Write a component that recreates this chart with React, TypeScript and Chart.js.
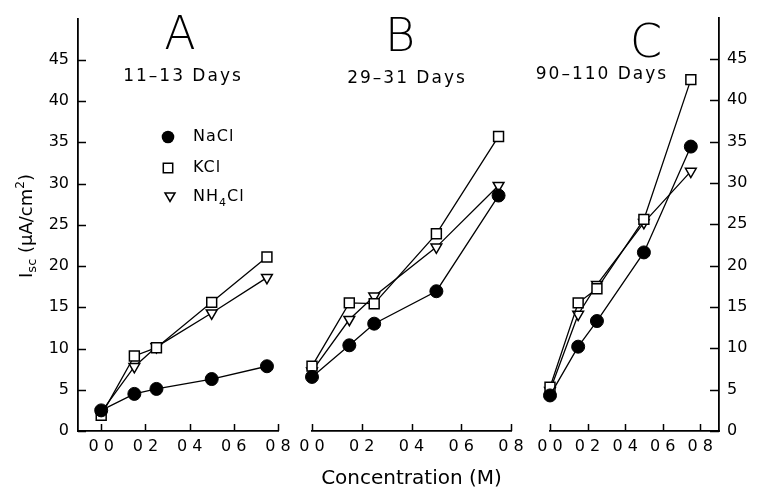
import React, { useEffect, useRef } from 'react';
import { Chart, registerables } from 'chart.js';

Chart.register(...registerables);

// ---------- data ----------
const concentrations = [0, 0.15, 0.25, 0.5, 0.75];
const xTickValues = [0, 0.2, 0.4, 0.6, 0.8];
const xTickLabels = ['0 0', '0 2', '0 4', '0 6', '0 8'];
const yTickValues = [0, 5, 10, 15, 20, 25, 30, 35, 40, 45];

const panelLetters = ['A', 'B', 'C'];
const panelAges = ['11–13 Days', '29–31 Days', '90–110 Days'];
const seriesNames = ['NaCl', 'KCl', 'NH4Cl'];
const xAxisTitle = 'Concentration (M)';

const naclA = [2.5, 4.5, 5.1, 6.3, 7.85];
const kclA = [1.9, 9.1, 10.1, 15.6, 21.1];
const nh4clA = [2.3, 7.8, 10.2, 14.3, 18.6];

const naclB = [6.5, 10.3, 12.9, 16.8, 28.3];
const kclB = [7.8, 15.4, 15.3, 23.7, 35.4];
const nh4clB = [7.2, 13.4, 16.2, 22.1, 29.5];

const naclC = [4.3, 10.2, 13.3, 21.6, 34.4];
const kclC = [5.3, 15.5, 17.2, 25.6, 42.5];
const nh4clC = [4.9, 14.1, 17.7, 25.2, 31.4];

// ---------- layout / styles ----------
const W = 777;
const H = 491;
const FONT = "'DejaVu Sans', 'Liberation Sans', sans-serif";

const seriesStyles = [
  { pointStyle: 'circle', pointRadius: 6.5, pointBackgroundColor: '#000', pointBorderColor: '#000', pointBorderWidth: 1, pointRotation: 0 },
  { pointStyle: 'rect', pointRadius: 7, pointBackgroundColor: '#fff', pointBorderColor: '#000', pointBorderWidth: 1.5, pointRotation: 0 },
  { pointStyle: 'triangle', pointRadius: 6.2, pointBackgroundColor: '#fff', pointBorderColor: '#000', pointBorderWidth: 1.5, pointRotation: 180 },
];

type Panel = {
  series: number[][];
  xMin: number;
  xMax: number;
  padding: { left: number; right: number; top: number; bottom: number };
  ySide: 'left' | 'right' | 'none';
  letterPos: [number, number];
  agePos: [number, number];
  idx: number;
};

const panels: Panel[] = [
  { idx: 0, series: [naclA, kclA, nh4clA], xMin: -0.105, xMax: 0.8, padding: { left: 0, right: W - 278, top: 15, bottom: 0 }, ySide: 'left', letterPos: [180, 37], agePos: [182, 77] },
  { idx: 1, series: [naclB, kclB, nh4clB], xMin: 0, xMax: 0.8, padding: { left: 312, right: W - 511, top: 15, bottom: 0 }, ySide: 'none', letterPos: [400, 39], agePos: [406, 79] },
  { idx: 2, series: [naclC, kclC, nh4clC], xMin: 0, xMax: 0.9, padding: { left: 550, right: W - 748, top: 15, bottom: 0 }, ySide: 'right', letterPos: [646, 45], agePos: [601, 75] },
];

// ---------- plugins ----------
const innerTicks = {
  id: 'innerTicks',
  beforeDatasetsDraw(chart: any, _args: any, opts: any) {
    const { ctx, chartArea } = chart;
    const xs = chart.scales.x;
    const ys = chart.scales.y;
    ctx.save();
    ctx.strokeStyle = '#000';
    ctx.lineWidth = 1.5;
    ctx.beginPath();
    for (const v of xTickValues) {
      const px = Math.round(xs.getPixelForValue(v)) + 0.5;
      ctx.moveTo(px, chartArea.bottom);
      ctx.lineTo(px, chartArea.bottom - 7);
    }
    if (opts.ySide !== 'none') {
      for (const v of yTickValues) {
        const py = Math.round(ys.getPixelForValue(v)) + 0.5;
        if (opts.ySide === 'left') {
          ctx.moveTo(chartArea.left, py);
          ctx.lineTo(chartArea.left + 8, py);
        } else {
          ctx.moveTo(chartArea.right, py);
          ctx.lineTo(chartArea.right - 9, py);
        }
      }
    }
    ctx.stroke();
    ctx.restore();
  },
};

function setSpacing(ctx: any, px: number) {
  if ('letterSpacing' in ctx) ctx.letterSpacing = px + 'px';
}

function drawMarker(ctx: any, kind: number, x: number, y: number) {
  ctx.save();
  ctx.strokeStyle = '#000';
  ctx.lineWidth = 1.5;
  ctx.beginPath();
  if (kind === 0) {
    ctx.arc(x, y, 6.3, 0, Math.PI * 2);
    ctx.fillStyle = '#000';
    ctx.fill();
  } else if (kind === 1) {
    ctx.rect(x - 4.7, y - 4.7, 9.4, 9.4);
    ctx.fillStyle = '#fff';
    ctx.fill();
    ctx.stroke();
  } else {
    ctx.moveTo(x - 5, y - 4);
    ctx.lineTo(x + 5, y - 4);
    ctx.lineTo(x, y + 4.5);
    ctx.closePath();
    ctx.fillStyle = '#fff';
    ctx.fill();
    ctx.stroke();
  }
  ctx.restore();
}

const panelText = {
  id: 'panelText',
  afterDraw(chart: any, _args: any, opts: any) {
    const { ctx } = chart;
    const p: Panel = opts.panel;
    ctx.save();
    ctx.fillStyle = '#000';
    // Panel letter
    ctx.font = `200 46px ${FONT}`;
    ctx.textAlign = 'center';
    ctx.textBaseline = 'middle';
    setSpacing(ctx, 0);
    ctx.fillText(panelLetters[p.idx], p.letterPos[0], p.letterPos[1]);
    // Age subtitle
    ctx.font = `17px ${FONT}`;
    setSpacing(ctx, 2);
    ctx.fillText(panelAges[p.idx], p.agePos[0] + 1, p.agePos[1]);
    setSpacing(ctx, 0);

    if (p.idx === 0) {
      // legend
      const rows: [number, number][] = [[168, 137], [168, 168], [170, 197]];
      ctx.textAlign = 'left';
      ctx.textBaseline = 'middle';
      rows.forEach(([mx, my], i) => {
        drawMarker(ctx, i, mx, my);
        const name = seriesNames[i];
        ctx.font = `16px ${FONT}`;
        setSpacing(ctx, 1);
        let x = 193;
        const m = name.match(/^(\D+)(\d)(\D+)$/);
        if (m) {
          ctx.fillText(m[1], x, my);
          x += ctx.measureText(m[1]).width;
          ctx.font = `11px ${FONT}`;
          ctx.fillText(m[2], x, my + 6);
          x += ctx.measureText(m[2]).width;
          ctx.font = `16px ${FONT}`;
          ctx.fillText(m[3], x, my);
        } else {
          ctx.fillText(name, x, my);
        }
      });
      setSpacing(ctx, 0);

      // y-axis title: I_sc (μA/cm^2)
      const parts: { t: string; size: number; dy: number }[] = [
        { t: 'I', size: 18, dy: 0 },
        { t: 'sc', size: 13, dy: 4 },
        { t: ' (μA/cm', size: 18, dy: 0 },
        { t: '2', size: 12, dy: -8 },
        { t: ')', size: 18, dy: 0 },
      ];
      let total = 0;
      for (const pt of parts) {
        ctx.font = `${pt.size}px ${FONT}`;
        total += ctx.measureText(pt.t).width;
      }
      ctx.translate(32, 226);
      ctx.rotate(-Math.PI / 2);
      ctx.textBaseline = 'alphabetic';
      let x = -total / 2;
      for (const pt of parts) {
        ctx.font = `${pt.size}px ${FONT}`;
        ctx.fillText(pt.t, x, pt.dy);
        x += ctx.measureText(pt.t).width;
      }
    }
    ctx.restore();
  },
};

function buildConfig(p: Panel): any {
  return {
    type: 'line',
    data: {
      datasets: p.series.map((vals, i) => ({
        label: seriesNames[i],
        data: concentrations.map((c, j) => ({ x: c, y: vals[j] })),
        borderColor: '#000',
        borderWidth: 1.3,
        fill: false,
        tension: 0,
        clip: false,
        ...seriesStyles[i],
      })),
    },
    options: {
      responsive: false,
      animation: false,
      devicePixelRatio: 1,
      events: [],
      layout: { padding: p.padding },
      plugins: {
        legend: { display: false },
        tooltip: { enabled: false },
        title: { display: false },
        innerTicks: { ySide: p.ySide },
        panelText: { panel: p },
      },
      scales: {
        x: {
          type: 'linear',
          min: p.xMin,
          max: p.xMax,
          afterBuildTicks: (s: any) => {
            s.ticks = xTickValues.map((v) => ({ value: v }));
          },
          afterFit: (s: any) => {
            s.height = 60;
          },
          grid: { display: false, drawTicks: false, drawOnChartArea: false },
          border: { display: true, color: '#000', width: 1.8 },
          ticks: {
            padding: 6,
            color: '#000',
            autoSkip: false,
            maxRotation: 0,
            font: { family: FONT, size: 16 },
            callback: (_v: any, i: number) => xTickLabels[i],
          },
          title: {
            display: p.idx === 1,
            text: xAxisTitle,
            color: '#000',
            font: { family: FONT, size: 20 },
            padding: { top: 0, bottom: 0 },
          },
        },
        y: {
          type: 'linear',
          display: p.ySide !== 'none',
          position: p.ySide === 'right' ? 'right' : 'left',
          min: 0,
          max: 50,
          afterBuildTicks: (s: any) => {
            s.ticks = yTickValues.map((v) => ({ value: v }));
          },
          afterFit: (s: any) => {
            if (p.ySide === 'right') s.width = 29;
            else if (p.ySide === 'left') s.width = 78;
            else s.width = 0;
          },
          grid: { display: false, drawTicks: false, drawOnChartArea: false },
          border: { display: true, color: '#000', width: 1.8 },
          ticks: {
            padding: p.ySide === 'right' ? 8 : 9,
            color: '#000',
            autoSkip: false,
            font: { family: FONT, size: 16 },
            callback: (v: any) => String(v),
          },
        },
      },
    },
    plugins: [innerTicks, panelText],
  };
}

function PanelCanvas({ panel }: { panel: Panel }) {
  const ref = useRef<HTMLCanvasElement | null>(null);
  useEffect(() => {
    if (!ref.current) return;
    const chart = new Chart(ref.current, buildConfig(panel));
    return () => chart.destroy();
  }, [panel]);
  return (
    <canvas
      ref={ref}
      width={W}
      height={H}
      style={{ position: 'absolute', left: 0, top: 0, width: W, height: H }}
    />
  );
}

export default function App() {
  return (
    <div style={{ position: 'absolute', left: 0, top: 0, width: W, height: H, background: '#fff' }}>
      {panels.map((p) => (
        <PanelCanvas key={p.idx} panel={p} />
      ))}
    </div>
  );
}
